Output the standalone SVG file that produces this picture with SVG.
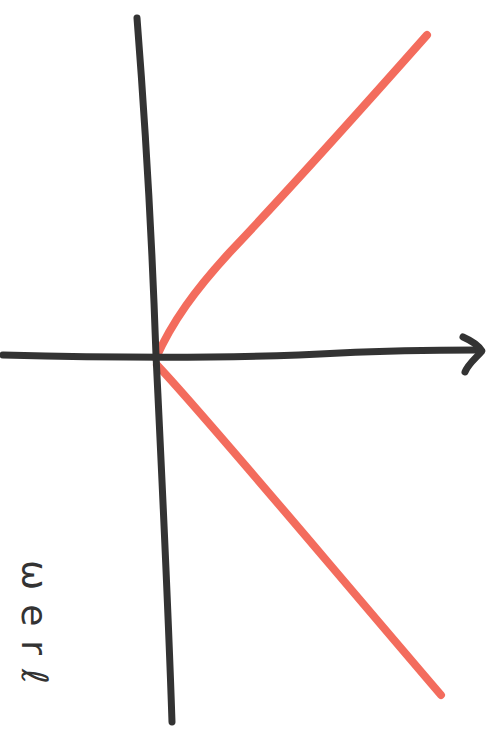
<svg xmlns="http://www.w3.org/2000/svg" width="496" height="731" viewBox="0 0 496 731">
<style>
.ax{fill:none;stroke:#333333;stroke-width:7;stroke-linecap:round;stroke-linejoin:round}
.rd{fill:none;stroke:#f2604f;stroke-width:8;stroke-linecap:round;stroke-opacity:0.92}
.lb{font-family:"DejaVu Sans",sans-serif;font-size:36px;fill:#333333}
</style>
<rect width="496" height="731" fill="#ffffff"/>
<g id="connectors">
<path class="rd" d="M156,358 C172,322 195,290 230,252 C300,178 365,105 427,35"/>
<path class="rd" d="M157,365 C200,410 300,530 441,695"/>
<path class="ax" d="M137,18 C145,120 152,240 156,355 C162,480 168,600 172,722"/>
<path class="ax" d="M3,355 C120,358 250,358 340,353 C400,350 440,350 478,350"/>
<path class="ax" d="M463,337 C472,341 479,346 482,351 C476,358 468,364 465,372"/>
</g>
<g id="label">
<text class="lb" transform="translate(22,560) rotate(90)" letter-spacing="14">ωerℓ</text>
</g>
</svg>
